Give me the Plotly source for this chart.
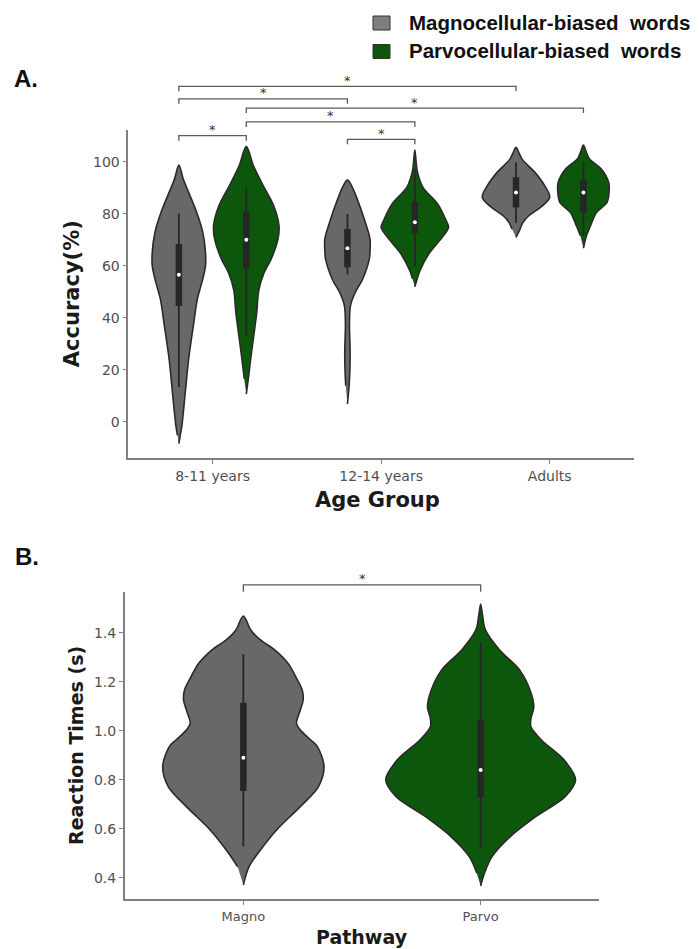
import plotly.graph_objects as go

W, H = 699, 949

# ---------------- data ----------------
age_groups = ["8-11 years", "12-14 years", "Adults"]
word_types = ["Magnocellular-biased\u00a0 words", "Parvocellular-biased\u00a0 words"]
pathways = ["Magno", "Parvo"]

# Panel A: accuracy density profiles (accuracy %, relative density)
acc_levels_magno_811 = [-8.5, -5.3, -1.5, 11.3, 24.1, 36.9, 47.2, 54.9, 60.0, 65.1, 72.8, 80.5, 88.2, 93.3, 98.7]
acc_density_magno_811 = [0, 0.04, 0.09, 0.19, 0.29, 0.43, 0.55, 0.71, 0.79, 0.79, 0.71, 0.53, 0.29, 0.13, 0]
acc_levels_parvo_811 = [10.6, 16.4, 24.1, 32.0, 42.0, 50.5, 57.4, 62.6, 70.3, 75.4, 83.1, 90.8, 98.5, 105.9]
acc_density_parvo_811 = [0, 0.06, 0.13, 0.21, 0.31, 0.37, 0.53, 0.74, 0.94, 0.97, 0.81, 0.50, 0.21, 0]

acc_levels_magno_1214 = [6.8, 13.8, 19.0, 26.0, 32.0, 36.9, 44.6, 49.7, 54.5, 62.6, 65.8, 70.3, 77.9, 85.6, 90.0, 93.0]
acc_density_magno_1214 = [0, 0.05, 0.07, 0.08, 0.07, 0.06, 0.09, 0.23, 0.44, 0.65, 0.67, 0.67, 0.50, 0.29, 0.15, 0]
acc_levels_parvo_1214 = [51.9, 55.0, 58.1, 64.5, 70.9, 74.7, 77.3, 83.7, 90.1, 96.5, 104.5]
acc_density_parvo_1214 = [0, 0.07, 0.15, 0.41, 0.81, 1.0, 0.93, 0.68, 0.24, 0.07, 0]

acc_levels_magno_adult = [70.9, 74.1, 76.7, 79.2, 81.6, 83.1, 86.3, 90.8, 95.9, 98.4, 101.0, 103.3, 105.5]
acc_density_magno_adult = [0, 0.12, 0.21, 0.38, 0.64, 0.79, 1.0, 0.85, 0.56, 0.37, 0.18, 0.09, 0]
acc_levels_parvo_adult = [66.7, 71.5, 75.4, 80.5, 84.4, 88.2, 92.0, 97.2, 101.0, 103.5, 106.4]
acc_density_parvo_adult = [0, 0.09, 0.21, 0.39, 0.70, 0.76, 0.75, 0.53, 0.18, 0.09, 0]

# Panel A box summaries: lower whisker, Q1, median, Q3, upper whisker
acc_box_magno = [[13.2, 44.5, 56.5, 68.3, 80.1], [56.6, 59.4, 66.7, 74.1, 79.9], [76.4, 82.4, 88.2, 94.0, 99.7]]
acc_box_parvo = [[33.0, 59.0, 70.0, 80.8, 90.1], [59.7, 72.5, 76.7, 84.4, 97.0], [71.5, 80.3, 88.2, 93.3, 100.0]]

# Panel B: reaction time density profiles (seconds, relative density)
rt_levels_magno = [0.370, 0.445, 0.513, 0.595, 0.690, 0.771, 0.853, 0.935, 0.962, 1.003, 1.030,
                   1.084, 1.125, 1.166, 1.221, 1.275, 1.330, 1.370, 1.410, 1.468]
rt_density_magno = [0, 0.06, 0.18, 0.35, 0.60, 0.79, 0.85, 0.78, 0.71, 0.60, 0.56,
                    0.60, 0.63, 0.62, 0.55, 0.47, 0.33, 0.18, 0.08, 0]
rt_levels_parvo = [0.366, 0.418, 0.486, 0.567, 0.649, 0.731, 0.799, 0.880, 0.962, 1.016, 1.050,
                   1.098, 1.166, 1.248, 1.329, 1.411, 1.470, 1.517]
rt_density_parvo = [0, 0.04, 0.12, 0.31, 0.58, 0.89, 1.0, 0.88, 0.64, 0.53, 0.53,
                    0.56, 0.52, 0.41, 0.20, 0.05, 0.02, 0]
rt_box = [[0.527, 0.754, 0.890, 1.114, 1.312], [0.520, 0.728, 0.840, 1.044, 1.363]]

# significance brackets: ((group, side), (group, side), height)
sig_pairs_a = [((0, -1), (2, -1), 129.0), ((0, -1), (1, -1), 124.2), ((0, 1), (2, 1), 120.6),
               ((0, 1), (1, 1), 115.3), ((0, -1), (0, 1), 110.0), ((1, -1), (1, 1), 108.6)]
sig_pairs_b = [(0, 1, 1.595)]

# ---------------- styling ----------------
GRAY = "#686868"
GREEN = "#0d570d"
EDGE = "#2a2a2a"
BOXC = "#262626"
SPINE = "#808080"
TICKC = "#505050"
BR_C = "#5a5a5a"
SMOOTH = 0.9

# subplot frames in pixels
A_X = (128.3, 634.0); A_Y = (130.0, 458.3)
B_X = (124.7, 599.3); B_Y = (591.7, 899.3)
A_XR = (-0.5, 2.5); A_YR = (-14.1, 112.2)
B_XR = (-0.5, 1.5); B_YR = (0.312, 1.567)


def px(xpix):
    return xpix / W


def py(ypix):
    return 1 - ypix / H


def data_to_paper(v, frame, rng, vertical):
    lo, hi = rng
    t = (v - lo) / (hi - lo)
    if vertical:
        return py(frame[1]) + t * (py(frame[0]) - py(frame[1]))
    return px(frame[0]) + t * (px(frame[1]) - px(frame[0]))


fig = go.Figure()


def add_violin(xc, levels, dens, half, fill, xa, ya):
    xs = [xc + d * half for d in dens] + [xc - d * half for d in reversed(dens)][1:-1]
    ys = list(levels) + list(reversed(levels))[1:-1]
    fig.add_trace(go.Scatter(x=xs, y=ys, mode="lines", fill="toself", fillcolor=fill,
                             line=dict(color=EDGE, width=1.6, shape="spline", smoothing=SMOOTH),
                             xaxis=xa, yaxis=ya, hoverinfo="skip", showlegend=False))


def add_box(xc, stats, xa, ya, wthin, wthick):
    lo, q1, med, q3, hi = stats
    fig.add_trace(go.Scatter(x=[xc, xc], y=[lo, hi], mode="lines", line=dict(color=BOXC, width=wthin),
                             xaxis=xa, yaxis=ya, hoverinfo="skip", showlegend=False))
    fig.add_trace(go.Scatter(x=[xc, xc], y=[q1, q3], mode="lines", line=dict(color=BOXC, width=wthick),
                             xaxis=xa, yaxis=ya, hoverinfo="skip", showlegend=False))
    fig.add_trace(go.Scatter(x=[xc], y=[med], mode="markers", marker=dict(color="white", size=4),
                             xaxis=xa, yaxis=ya, hoverinfo="skip", showlegend=False))


# Panel A violins
DODGE = 0.2
HALF_A = 0.2
magno_profiles = [(acc_levels_magno_811, acc_density_magno_811),
                  (acc_levels_magno_1214, acc_density_magno_1214),
                  (acc_levels_magno_adult, acc_density_magno_adult)]
parvo_profiles = [(acc_levels_parvo_811, acc_density_parvo_811),
                  (acc_levels_parvo_1214, acc_density_parvo_1214),
                  (acc_levels_parvo_adult, acc_density_parvo_adult)]
for g in range(len(age_groups)):
    add_violin(g - DODGE, *magno_profiles[g], HALF_A, GRAY, "x", "y")
    add_box(g - DODGE, acc_box_magno[g], "x", "y", 1.8, 6.5)
    add_violin(g + DODGE, *parvo_profiles[g], HALF_A, GREEN, "x", "y")
    add_box(g + DODGE, acc_box_parvo[g], "x", "y", 1.8, 6.5)

# Panel B violins
HALF_B = 0.4
add_violin(0, rt_levels_magno, rt_density_magno, HALF_B, GRAY, "x2", "y2")
add_box(0, rt_box[0], "x2", "y2", 1.8, 6.5)
add_violin(1, rt_levels_parvo, rt_density_parvo, HALF_B, GREEN, "x2", "y2")
add_box(1, rt_box[1], "x2", "y2", 1.8, 6.5)

shapes = []
annotations = []

STAR_FONT = dict(family="DejaVu Sans", size=13, color="#333333")

# significance brackets
TICK_A = 1.9
for (ga, sa), (gb, sb), h in sig_pairs_a:
    xa_ = data_to_paper(ga + sa * DODGE, A_X, A_XR, False)
    xb_ = data_to_paper(gb + sb * DODGE, A_X, A_XR, False)
    yt = data_to_paper(h, A_Y, A_YR, True)
    yb = data_to_paper(h - TICK_A, A_Y, A_YR, True)
    shapes.append(dict(type="path", xref="paper", yref="paper",
                       path=f"M {xa_} {yb} L {xa_} {yt} L {xb_} {yt} L {xb_} {yb}",
                       line=dict(color=BR_C, width=1.3)))
    annotations.append(dict(x=(xa_ + xb_) / 2, y=yt, xref="paper", yref="paper", text="*",
                            showarrow=False, xanchor="center", yanchor="middle", yshift=6,
                            font=STAR_FONT))
for ia, ib, h in sig_pairs_b:
    xa_ = data_to_paper(ia, B_X, B_XR, False)
    xb_ = data_to_paper(ib, B_X, B_XR, False)
    yt = data_to_paper(h, B_Y, B_YR, True)
    yb = data_to_paper(h - 0.028, B_Y, B_YR, True)
    shapes.append(dict(type="path", xref="paper", yref="paper",
                       path=f"M {xa_} {yb} L {xa_} {yt} L {xb_} {yt} L {xb_} {yb}",
                       line=dict(color=BR_C, width=1.3)))
    annotations.append(dict(x=(xa_ + xb_) / 2, y=yt, xref="paper", yref="paper", text="*",
                            showarrow=False, xanchor="center", yanchor="middle", yshift=6,
                            font=STAR_FONT))

# legend
leg_colors = ["#7f7f7f", GREEN]
leg_rows = [23.0, 51.5]
for name, col, yc in zip(word_types, leg_colors, leg_rows):
    shapes.append(dict(type="rect", xref="paper", yref="paper",
                       x0=px(373), x1=px(390), y0=py(yc + 7), y1=py(yc - 7),
                       fillcolor=col, line=dict(color="#333333", width=1)))
    annotations.append(dict(x=px(407), y=py(yc - 1), xref="paper", yref="paper",
                            text=f"<b>{name}</b>", showarrow=False, xanchor="left", yanchor="middle",
                            font=dict(family="Liberation Sans", size=20.5, color="#111111")))

# panel letters
annotations.append(dict(x=px(12), y=py(78), xref="paper", yref="paper", text="<b>A.</b>",
                        showarrow=False, xanchor="left", yanchor="middle",
                        font=dict(family="Liberation Sans", size=24, color="#111111")))
annotations.append(dict(x=px(13), y=py(556), xref="paper", yref="paper", text="<b>B.</b>",
                        showarrow=False, xanchor="left", yanchor="middle",
                        font=dict(family="Liberation Sans", size=24, color="#111111")))

# axis titles
TITLE_FONT = dict(family="DejaVu Sans", size=21, color="#1a1a1a")
annotations.append(dict(x=px(72), y=py((A_Y[0] + A_Y[1]) / 2), xref="paper", yref="paper",
                        text="<b>Accuracy(%)</b>", textangle=-90, showarrow=False,
                        xanchor="center", yanchor="middle", font=TITLE_FONT))
annotations.append(dict(x=px(377), y=py(500), xref="paper", yref="paper",
                        text="<b>Age Group</b>", showarrow=False,
                        xanchor="center", yanchor="middle", font=TITLE_FONT))
TITLE_FONT_B = dict(family="DejaVu Sans", size=19, color="#1a1a1a")
annotations.append(dict(x=px(75.5), y=py((B_Y[0] + B_Y[1]) / 2), xref="paper", yref="paper",
                        text="<b>Reaction Times (s)</b>", textangle=-90, showarrow=False,
                        xanchor="center", yanchor="middle", font=TITLE_FONT_B))
annotations.append(dict(x=px(362), y=py(937), xref="paper", yref="paper",
                        text="<b>Pathway</b>", showarrow=False,
                        xanchor="center", yanchor="middle", font=TITLE_FONT_B))

axis_common = dict(showline=True, linecolor=SPINE, linewidth=1.5, ticks="outside", ticklen=4,
                   tickwidth=1.2, tickcolor=SPINE, showgrid=False, zeroline=False,
                   fixedrange=True)

fig.update_layout(
    width=W, height=H, margin=dict(l=0, r=0, t=0, b=0),
    paper_bgcolor="white", plot_bgcolor="white", showlegend=False,
    xaxis=dict(domain=[px(A_X[0]), px(A_X[1])], range=list(A_XR), anchor="y",
               tickvals=[0, 1, 2], ticktext=age_groups,
               tickfont=dict(family="DejaVu Sans", size=14, color=TICKC), **axis_common),
    yaxis=dict(domain=[py(A_Y[1]), py(A_Y[0])], range=list(A_YR), anchor="x",
               tickvals=[0, 20, 40, 60, 80, 100],
               tickfont=dict(family="DejaVu Sans", size=14, color=TICKC), **axis_common),
    xaxis2=dict(domain=[px(B_X[0]), px(B_X[1])], range=list(B_XR), anchor="y2",
                tickvals=[0, 1], ticktext=pathways,
                tickfont=dict(family="DejaVu Sans", size=13, color=TICKC), **axis_common),
    yaxis2=dict(domain=[py(B_Y[1]), py(B_Y[0])], range=list(B_YR), anchor="x2",
                tickvals=[0.4, 0.6, 0.8, 1.0, 1.2, 1.4], tickformat=".1f",
                tickfont=dict(family="DejaVu Sans", size=14, color=TICKC), **axis_common),
    shapes=shapes, annotations=annotations,
)

fig.write_html("out.html")
